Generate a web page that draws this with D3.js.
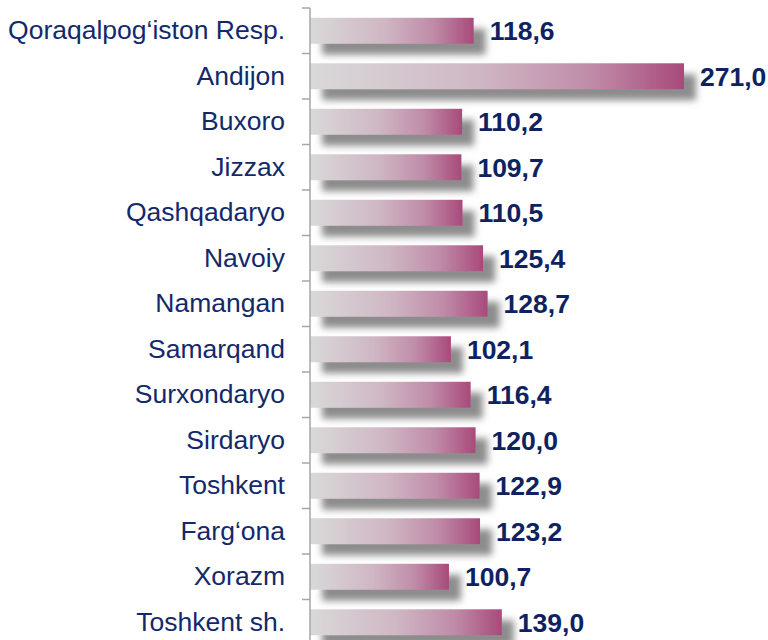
<!DOCTYPE html>
<html>
<head>
<meta charset="utf-8">
<script src="https://cdn.jsdelivr.net/npm/d3@7"></script>
<style>
html,body{margin:0;padding:0;background:#fff;}
svg{display:block;}
</style>
</head>
<body>
<script>
const categories = ["Qoraqalpog‘iston Resp.","Andijon","Buxoro","Jizzax","Qashqadaryo","Navoiy","Namangan","Samarqand","Surxondaryo","Sirdaryo","Toshkent","Farg‘ona","Xorazm","Toshkent sh."];
const values = [118.6,271.0,110.2,109.7,110.5,125.4,128.7,102.1,116.4,120.0,122.9,123.2,100.7,139.0];
const valueLabels = ["118,6","271,0","110,2","109,7","110,5","125,4","128,7","102,1","116,4","120,0","122,9","123,2","100,7","139,0"];

const W = 768, H = 640;
const svg = d3.select("body").append("svg").attr("width", W).attr("height", H);
const defs = svg.append("defs");

const grad = defs.append("linearGradient").attr("id","barGrad")
  .attr("x1","0%").attr("x2","100%").attr("y1","0%").attr("y2","0%");
grad.append("stop").attr("offset","0%").attr("stop-color","#d9d9d9");
grad.append("stop").attr("offset","45%").attr("stop-color","#cfb7c4");
grad.append("stop").attr("offset","75%").attr("stop-color","#c08ca8");
grad.append("stop").attr("offset","100%").attr("stop-color","#a84a7b");

const f = defs.append("filter").attr("id","shadow")
  .attr("x","-10%").attr("y","-40%").attr("width","130%").attr("height","220%");
f.append("feGaussianBlur").attr("in","SourceAlpha").attr("stdDeviation",3.5).attr("result","b");
f.append("feOffset").attr("in","b").attr("dx",12).attr("dy",11).attr("result","o");
f.append("feFlood").attr("flood-color","#808080").attr("flood-opacity",0.9).attr("result","c");
f.append("feComposite").attr("in","c").attr("in2","o").attr("operator","in").attr("result","s");
const m = f.append("feMerge");
m.append("feMergeNode").attr("in","s");
m.append("feMergeNode").attr("in","SourceGraphic");

const x0 = 310;
const x = d3.scaleLinear().domain([0, 271.0]).range([x0, 684]);
const y = d3.scaleBand().domain(categories).range([8, 8 + 45.5 * categories.length]).paddingInner(0.43).paddingOuter(0.215);

const data = categories.map((c,i)=>({c, v: values[i], l: valueLabels[i]}));

// bars
svg.append("g").selectAll("rect").data(data).join("rect")
  .attr("x", x(0))
  .attr("y", d => y(d.c))
  .attr("width", d => x(d.v) - x(0))
  .attr("height", y.bandwidth())
  .attr("fill", "url(#barGrad)")
  .attr("filter", "url(#shadow)");

// axis
const step = y.step();
const axisG = svg.append("g").attr("stroke","#a6a6a6").attr("stroke-width",1.5);
axisG.append("line").attr("x1",x0).attr("x2",x0).attr("y1",8).attr("y2",H+10);
const bounds = d3.range(categories.length + 1).map(i => 8 + i * step);
axisG.selectAll("line.t").data(bounds).join("line").attr("class","t")
  .attr("x1", x0 - 8).attr("x2", x0).attr("y1", d => d).attr("y2", d => d);

// category labels
svg.append("g").selectAll("text").data(data).join("text")
  .attr("x", 285)
  .attr("y", d => y(d.c) + y.bandwidth()/2 + 8.5)
  .attr("text-anchor","end")
  .attr("font-family","'Liberation Sans', Arial, sans-serif")
  .attr("font-size", 26.5)
  .attr("fill","#13296a")
  .text(d => d.c);

// value labels
svg.append("g").selectAll("text").data(data).join("text")
  .attr("x", d => x(d.v) + 16)
  .attr("y", d => y(d.c) + y.bandwidth()/2 + 9.5)
  .attr("font-family","'Liberation Sans', Arial, sans-serif")
  .attr("font-weight","bold")
  .attr("font-size", 26.5)
  .attr("fill","#0e2260")
  .text(d => d.l);
</script>
</body>
</html>
